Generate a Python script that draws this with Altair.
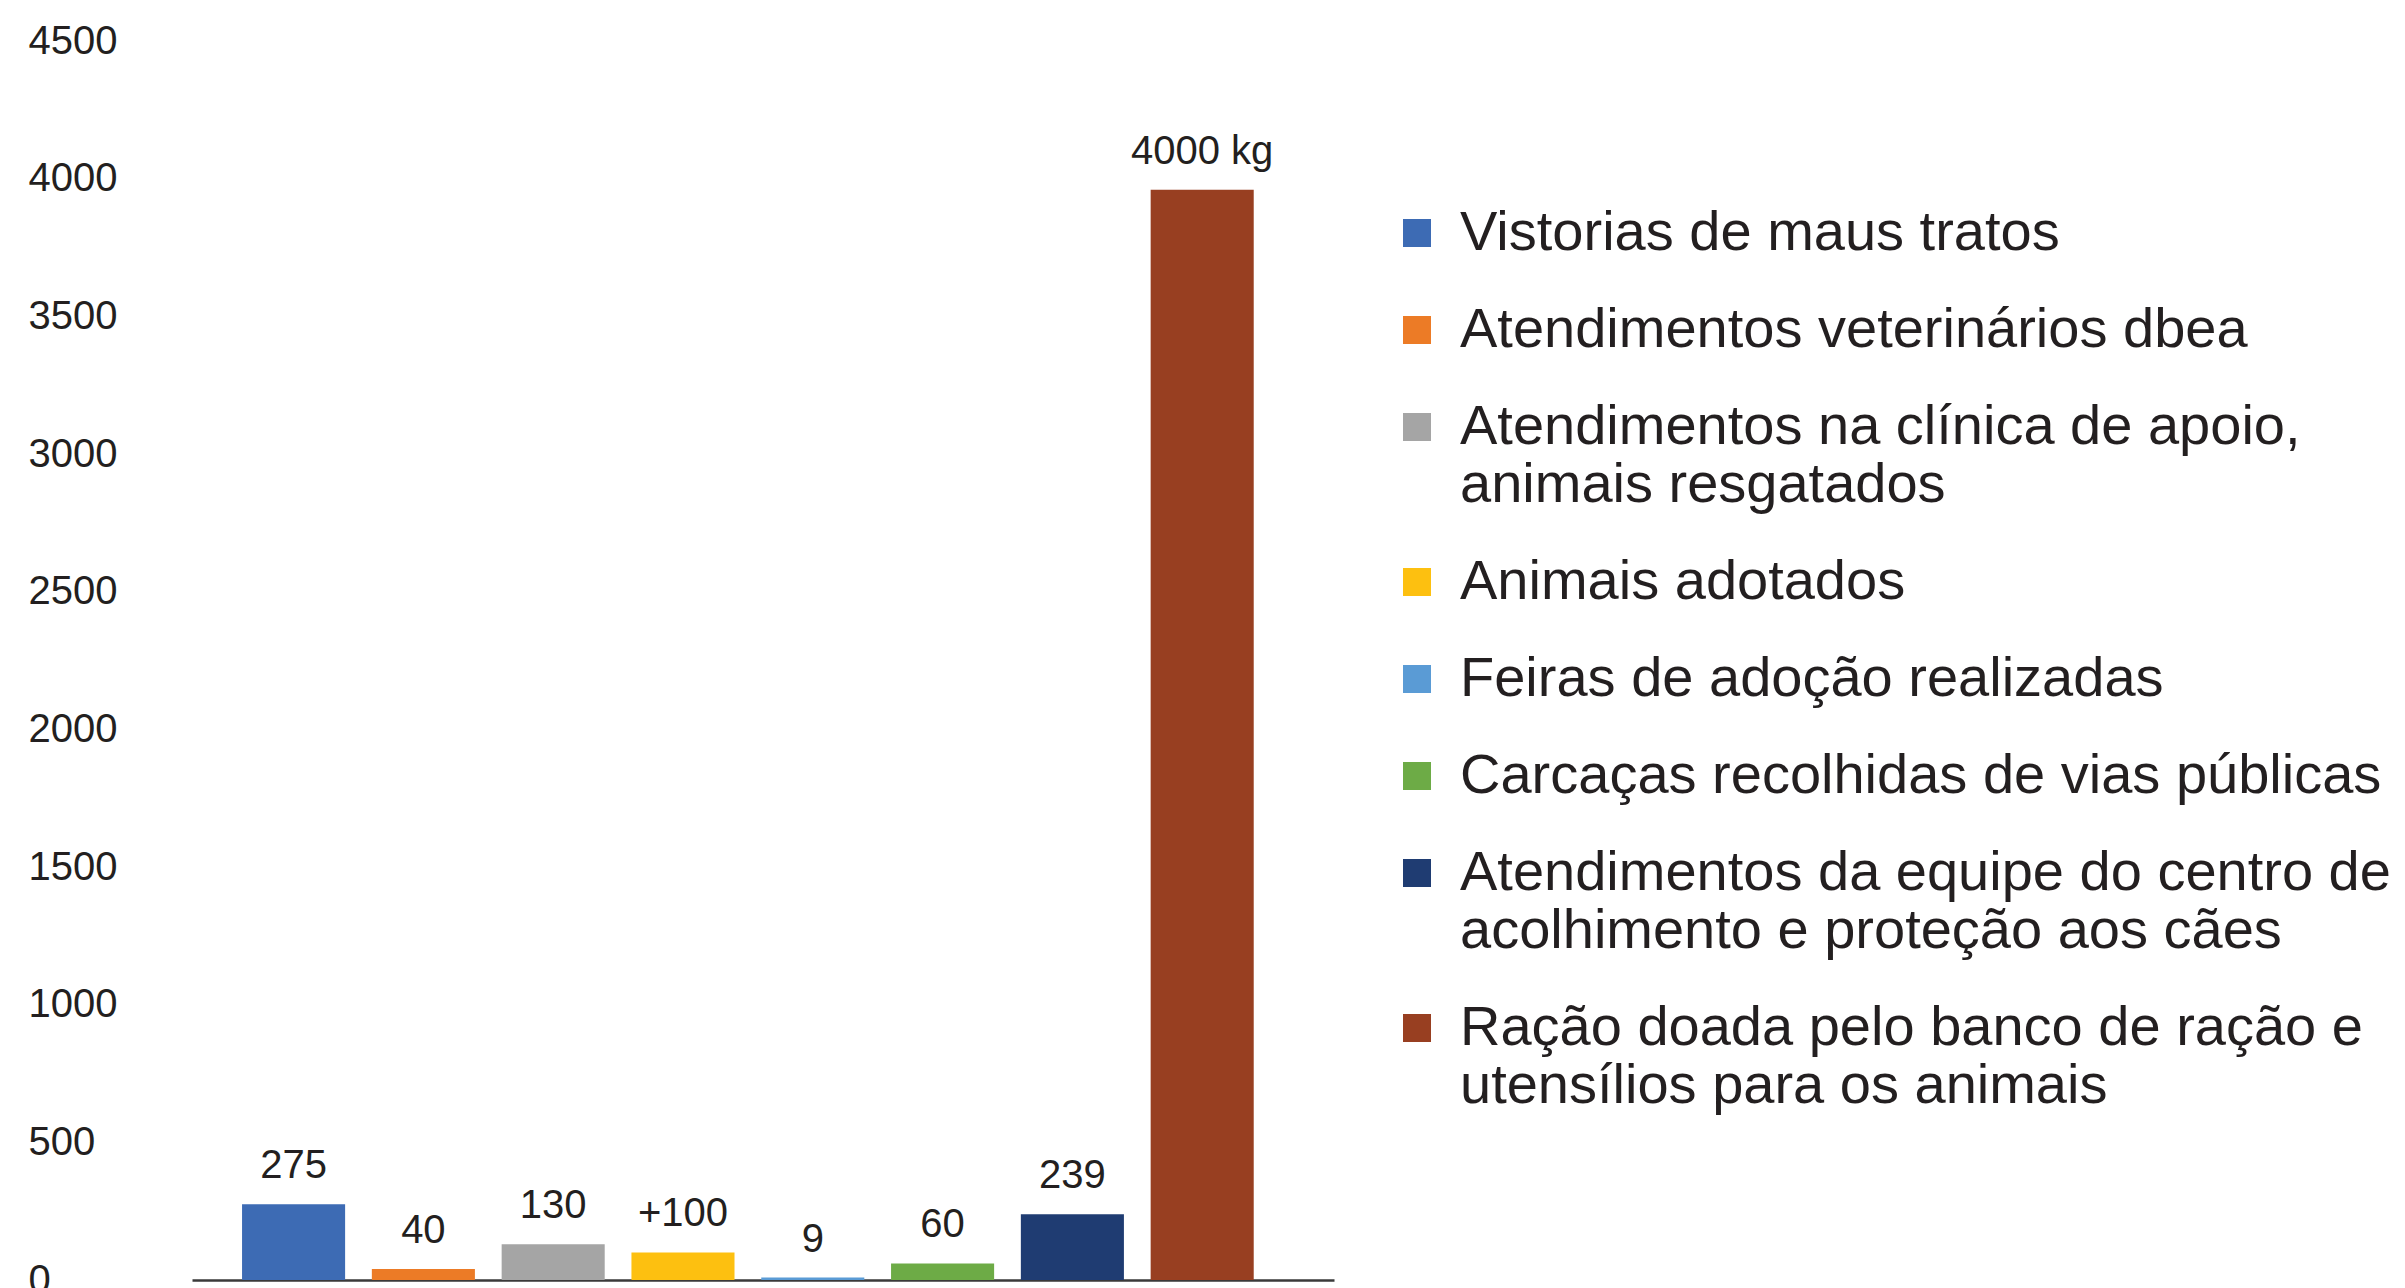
import altair as alt
import pandas as pd

categories = [
    "Vistorias de maus tratos",
    "Atendimentos veterinários dbea",
    "Atendimentos na clínica de apoio,\nanimais resgatados",
    "Animais adotados",
    "Feiras de adoção realizadas",
    "Carcaças recolhidas de vias públicas",
    "Atendimentos da equipe do centro de\nacolhimento e proteção aos cães",
    "Ração doada pelo banco de ração e\nutensílios para os animais",
]
values = [275, 40, 130, 100, 9, 60, 239, 3960]
value_labels = ["275", "40", "130", "+100", "9", "60", "239", "4000 kg"]
colors = ["#3d6bb4", "#ec7b26", "#a5a5a5", "#fdc010", "#5a9bd5", "#6dab46", "#1f3c72", "#983f21"]
y_ticks = [0, 500, 1000, 1500, 2000, 2500, 3000, 3500, 4000, 4500]

df = pd.DataFrame({"cat": categories, "value": values, "label": value_labels})

FONT = "Liberation Sans"
TXT = "#231f20"

x_enc = alt.X(
    "cat:N",
    sort=categories,
    scale=alt.Scale(paddingInner=0.206, paddingOuter=0.502, align=0.384),
    axis=alt.Axis(labels=False, ticks=False, title=None, grid=False,
                  domainColor="#3a3a3a", domainWidth=2.5),
)
y_enc = alt.Y(
    "value:Q",
    scale=alt.Scale(domain=[0, 4500], nice=False, zero=True),
    axis=alt.Axis(values=y_ticks, format="d", grid=False, domain=False, ticks=False, tickSize=0,
                  labelAlign="left", labelPadding=164, labelFontSize=40,
                  labelFont=FONT, labelColor=TXT, title=None, labelBaseline="middle"),
)

bars = alt.Chart(df).mark_bar().encode(
    x=x_enc,
    y=y_enc,
    color=alt.Color(
        "cat:N",
        sort=categories,
        scale=alt.Scale(domain=categories, range=colors),
        legend=alt.Legend(
            orient="none", legendX=1197, legendY=164, title=None,
            symbolType="square", symbolSize=784, symbolStrokeWidth=0, symbolOpacity=1,
            labelFontSize=56, labelFont=FONT, labelColor=TXT, labelLimit=1300,
            labelOffset=15, rowPadding=41, padding=0,
            labelExpr="split(datum.label, '\\n')",
        ),
    ),
)

texts = alt.Chart(df).mark_text(
    baseline="alphabetic", align="center", dy=-26, fontSize=40, font=FONT, color=TXT
).encode(
    x=alt.X("cat:N", sort=categories),
    y=alt.Y("value:Q"),
    text="label:N",
)

chart = (
    alt.layer(bars, texts)
    .properties(
        width=1142,
        height=1239,
        autosize=alt.AutoSizeParams(type="none"),
        padding={"left": 184, "top": 33, "right": 1063, "bottom": 12},
    )
    .configure_view(stroke=None)
)

chart.save("out.html", embed_options={"renderer": "svg", "actions": False})
